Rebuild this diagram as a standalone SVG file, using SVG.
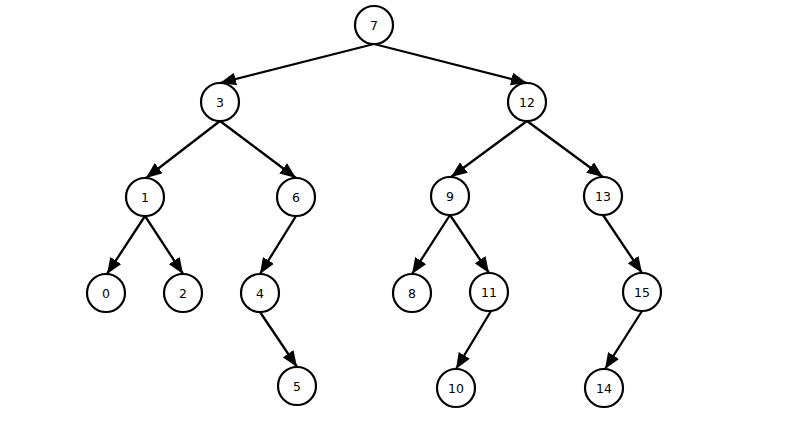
<svg xmlns="http://www.w3.org/2000/svg" width="800" height="439" viewBox="0 0 800 439">
<defs>
<style>
.n circle{fill:#fff;stroke:#000;stroke-width:2.2}
.n text{font-family:"DejaVu Sans",Verdana,sans-serif;font-size:12.5px;fill:#000;text-anchor:middle;dominant-baseline:central}
.e line{stroke:#000;stroke-width:2.3;marker-end:url(#ah)}
</style>
<marker id="ah" markerUnits="userSpaceOnUse" markerWidth="17" markerHeight="13" refX="16" refY="6.5" orient="auto">
<polygon points="0,0 16,6.5 0,13" fill="#000"/>
</marker>
</defs>
<rect width="800" height="439" fill="#fff"/>
<g id="connectors" class="e">
<line x1="374" y1="44" x2="220" y2="83"/>
<line x1="374" y1="44" x2="527" y2="83"/>
<line x1="220" y1="121" x2="146" y2="178"/>
<line x1="220" y1="121" x2="296" y2="178"/>
<line x1="527" y1="121" x2="451" y2="177"/>
<line x1="527" y1="121" x2="603" y2="177"/>
<line x1="145" y1="216" x2="107" y2="274"/>
<line x1="145" y1="216" x2="183" y2="274"/>
<line x1="296" y1="216" x2="260" y2="274"/>
<line x1="450" y1="215" x2="412" y2="274"/>
<line x1="450" y1="215" x2="489" y2="273"/>
<line x1="603" y1="215" x2="642" y2="273"/>
<line x1="260" y1="312" x2="297" y2="367"/>
<line x1="491" y1="311" x2="456" y2="369"/>
<line x1="642" y1="311" x2="605" y2="369"/>
</g>
<g id="n7" class="n"><circle cx="374" cy="25" r="19"/><text x="374" y="25">7</text></g>
<g id="n3" class="n"><circle cx="220" cy="102" r="19"/><text x="220" y="102">3</text></g>
<g id="n12" class="n"><circle cx="527" cy="102" r="19"/><text x="527" y="102">12</text></g>
<g id="n1" class="n"><circle cx="145" cy="197" r="19"/><text x="145" y="197">1</text></g>
<g id="n6" class="n"><circle cx="296" cy="197" r="19"/><text x="296" y="197">6</text></g>
<g id="n9" class="n"><circle cx="450" cy="196" r="19"/><text x="450" y="196">9</text></g>
<g id="n13" class="n"><circle cx="603" cy="196" r="19"/><text x="603" y="196">13</text></g>
<g id="n0" class="n"><circle cx="106" cy="293" r="19"/><text x="106" y="293">0</text></g>
<g id="n2" class="n"><circle cx="183" cy="293" r="19"/><text x="183" y="293">2</text></g>
<g id="n4" class="n"><circle cx="260" cy="293" r="19"/><text x="260" y="293">4</text></g>
<g id="n8" class="n"><circle cx="412" cy="293" r="19"/><text x="412" y="293">8</text></g>
<g id="n11" class="n"><circle cx="489" cy="292" r="19"/><text x="489" y="292">11</text></g>
<g id="n15" class="n"><circle cx="642" cy="292" r="19"/><text x="642" y="292">15</text></g>
<g id="n5" class="n"><circle cx="297" cy="386" r="19"/><text x="297" y="386">5</text></g>
<g id="n10" class="n"><circle cx="456" cy="388" r="19"/><text x="456" y="388">10</text></g>
<g id="n14" class="n"><circle cx="604" cy="388" r="19"/><text x="604" y="388">14</text></g>
</svg>
